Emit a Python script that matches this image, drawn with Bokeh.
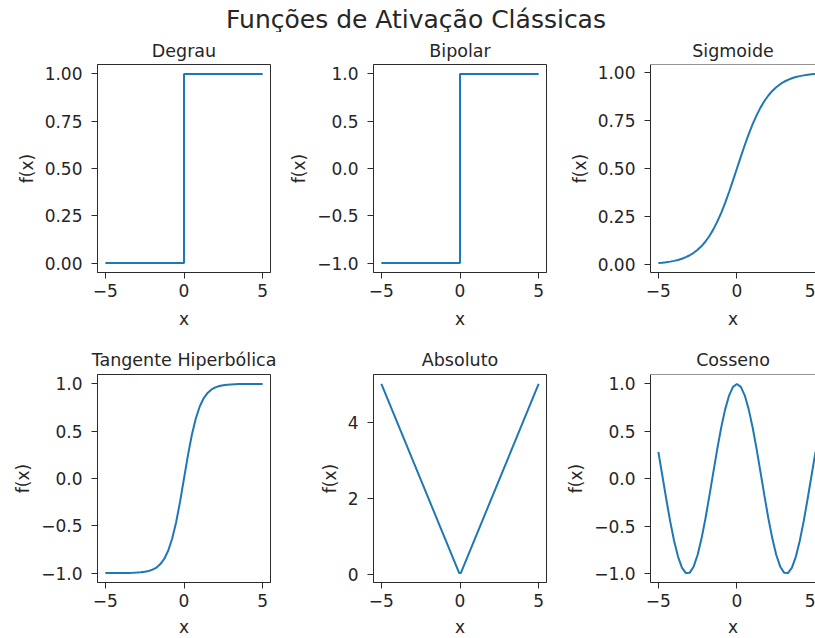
from bokeh.plotting import figure
from bokeh.layouts import column, row
from bokeh.models import Range1d, FixedTicker, CustomJSTickFormatter, Span
from bokeh.core.properties import value
from bokeh.embed import file_html
from bokeh.resources import INLINE

# ---- data -------------------------------------------------------------
x_grid = [-5.0, -4.75, -4.5, -4.25, -4.0, -3.75, -3.5, -3.25, -3.0, -2.75,
          -2.5, -2.25, -2.0, -1.75, -1.5, -1.25, -1.0, -0.75, -0.5, -0.25,
          0.0, 0.25, 0.5, 0.75, 1.0, 1.25, 1.5, 1.75, 2.0, 2.25,
          2.5, 2.75, 3.0, 3.25, 3.5, 3.75, 4.0, 4.25, 4.5, 4.75, 5.0]

step_x = [-5.0, 0.0, 0.0, 5.0]
degrau_y = [0.0, 0.0, 1.0, 1.0]
bipolar_y = [-1.0, -1.0, 1.0, 1.0]

sigmoide_y = [0.0067, 0.0086, 0.0110, 0.0141, 0.0180, 0.0230, 0.0293, 0.0373, 0.0474, 0.0601,
              0.0759, 0.0953, 0.1192, 0.1480, 0.1824, 0.2227, 0.2689, 0.3208, 0.3775, 0.4378,
              0.5000, 0.5622, 0.6225, 0.6792, 0.7311, 0.7773, 0.8176, 0.8520, 0.8808, 0.9047,
              0.9241, 0.9399, 0.9526, 0.9627, 0.9707, 0.9770, 0.9820, 0.9859, 0.9890, 0.9914, 0.9933]

tanh_y = [-0.9999, -0.9999, -0.9998, -0.9996, -0.9993, -0.9989, -0.9982, -0.9970, -0.9951, -0.9919,
          -0.9866, -0.9780, -0.9640, -0.9414, -0.9051, -0.8483, -0.7616, -0.6351, -0.4621, -0.2449,
          0.0000, 0.2449, 0.4621, 0.6351, 0.7616, 0.8483, 0.9051, 0.9414, 0.9640, 0.9780,
          0.9866, 0.9919, 0.9951, 0.9970, 0.9982, 0.9989, 0.9993, 0.9996, 0.9998, 0.9999, 0.9999]

abs_x = [-5.0, -0.05, 0.05, 5.0]
abs_y = [5.0, 0.05, 0.05, 5.0]

cos_y = [0.2837, 0.0376, -0.2108, -0.4461, -0.6536, -0.8206, -0.9365, -0.9941, -0.9900, -0.9243,
         -0.8011, -0.6282, -0.4161, -0.1782, 0.0707, 0.3153, 0.5403, 0.7317, 0.8776, 0.9689,
         1.0000, 0.9689, 0.8776, 0.7317, 0.5403, 0.3153, 0.0707, -0.1782, -0.4161, -0.6282,
         -0.8011, -0.9243, -0.9900, -0.9941, -0.9365, -0.8206, -0.6536, -0.4461, -0.2108, 0.0376, 0.2837]

x_ticks = [-5, 0, 5]
ticks_unit = [0.0, 0.25, 0.5, 0.75, 1.0]
ticks_bip = [-1.0, -0.5, 0.0, 0.5, 1.0]
ticks_abs = [0, 2, 4]

suptitle = "Funções de Ativação Clássicas"

# ---- styling ----------------------------------------------------------
FONT = "DejaVu Sans"
TEXT = "#262626"
AXC = "#2b2b2b"
LINE = "#1f77b4"
FW, FH = 173, 208


def fmt(decimals):
    return CustomJSTickFormatter(
        code=f"return tick.toFixed({decimals}).replace('-', '\\u2212');")


def panel(title, xs, ys, yticks, ydec, left, right, top, bottom, xlabel_gap, title_gap,
          frame_w=FW, x_end=5.5, open_right=False):
    lo, hi = min(ys), max(ys)
    pad = 0.05 * (hi - lo)
    p = figure(frame_width=frame_w, frame_height=FH,
               x_range=Range1d(-5.5, x_end), y_range=Range1d(lo - pad, hi + pad),
               min_border_left=left, min_border_right=right,
               min_border_top=top, min_border_bottom=bottom,
               toolbar_location=None, output_backend="svg",
               background_fill_color="white", border_fill_color="white")
    p.line(xs, ys, line_color=LINE, line_width=2)

    p.title.text = title
    p.title.align = "center"
    p.title.text_font = FONT
    p.title.text_font_size = "17.5px"
    p.title.text_font_style = "normal"
    p.title.text_color = TEXT
    p.title.standoff = title_gap

    p.grid.visible = False
    if open_right:
        # right side runs off the page: draw only the top edge of the box
        p.outline_line_color = None
        p.add_layout(Span(location=hi + pad, dimension="width",
                          line_color=AXC, line_width=1))
    else:
        p.outline_line_color = AXC
        p.outline_line_width = 1
        p.outline_line_alpha = 1

    for ax in (p.xaxis[0], p.yaxis[0]):
        ax.axis_line_color = AXC
        ax.major_tick_line_color = AXC
        ax.major_tick_out = 6
        ax.major_tick_in = 0
        ax.minor_tick_line_color = None
        ax.major_label_text_font = FONT
        ax.major_label_text_font_size = "17px"
        ax.major_label_text_color = TEXT
        ax.axis_label_text_font = FONT
        ax.axis_label_text_font_size = "17px"
        ax.axis_label_text_font_style = "normal"
        ax.axis_label_text_color = TEXT

    p.xaxis.major_label_standoff = 5
    p.xaxis.axis_label_standoff = xlabel_gap
    p.yaxis.major_label_standoff = 9
    p.yaxis.axis_label_standoff = 5

    p.xaxis.axis_label = "x"
    p.yaxis.axis_label = "f(x)"
    p.xaxis.ticker = FixedTicker(ticks=x_ticks)
    p.xaxis.formatter = fmt(0)
    p.yaxis.ticker = FixedTicker(ticks=yticks)
    p.yaxis.formatter = fmt(ydec)
    return p


# ---- figure title -----------------------------------------------------
HEAD_H = 32
head = figure(width=815, height=HEAD_H, x_range=Range1d(0, 815), y_range=Range1d(0, HEAD_H),
              x_axis_location=None, y_axis_location=None,
              min_border=0, toolbar_location=None, output_backend="svg")
head.grid.visible = False
head.outline_line_color = None
head.text(x=[415.5], y=[HEAD_H - 4], text=[suptitle], text_font=value(FONT),
          text_font_size="25px", text_color=TEXT,
          text_align="center", text_baseline="top")

# ---- panels -----------------------------------------------------------
T1, B1 = 32, 64
T2, B2 = 38, 56

p1 = panel("Degrau", step_x, degrau_y, ticks_unit, 2, 97, 8, T1, B1, 9, 7)
p2 = panel("Bipolar", step_x, bipolar_y, ticks_bip, 1, 95, 8, T1, B1, 9, 7)
p3 = panel("Sigmoide", x_grid, sigmoide_y, ticks_unit, 2, 96, 0, T1, B1, 9, 7,
           frame_w=165, x_end=5.0, open_right=True)
p4 = panel("Tangente Hiperbólica", x_grid, tanh_y, ticks_bip, 1, 97, 8, T2, B2, 7, 9)
p5 = panel("Absoluto", abs_x, abs_y, ticks_abs, 0, 95, 8, T2, B2, 7, 9)
p6 = panel("Cosseno", x_grid, cos_y, ticks_bip, 1, 96, 0, T2, B2, 7, 9,
           frame_w=165, x_end=5.0, open_right=True)

layout = column(head, row(p1, p2, p3), row(p4, p5, p6))

with open("out.html", "w") as f:
    f.write(file_html(layout, INLINE))
